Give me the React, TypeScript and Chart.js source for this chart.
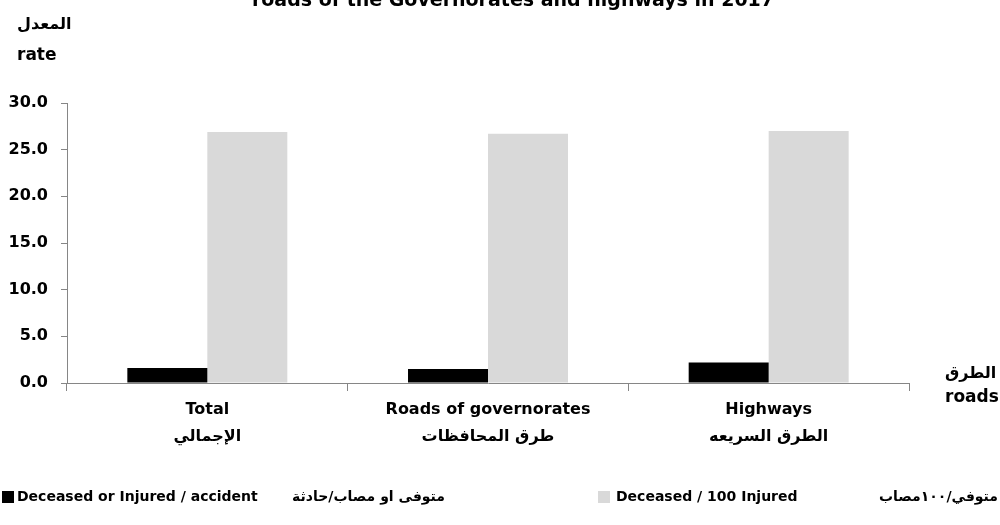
import React, { useEffect, useRef } from "react";
import { Chart, registerables } from "chart.js";

Chart.register(...registerables);

const categoriesEn = ["Total", "Roads of governorates", "Highways"];
const categoriesAr = ["الإجمالي", "طرق المحافظات", "الطرق السريعه"];
const deceasedOrInjuredPerAccident = [1.6, 1.5, 2.2];
const deceasedPer100Injured = [26.9, 26.7, 27.0];
const seriesEn = ["Deceased or Injured / accident", "Deceased / 100 Injured"];
const seriesAr = ["متوفى او مصاب/حادثة", "متوفي/١٠٠مصاب"];
const yMin = 0;
const yMax = 30;
const yStep = 5;
const titleText = "roads of the Governorates and highways in 2017";
const yTitleAr = "المعدل";
const yTitleEn = "rate";
const xTitleAr = "الطرق";
const xTitleEn = "roads";

const FONT = "'DejaVu Sans', sans-serif";
const AXIS = "#868686";
const BLACK = "#000000";
const GRAY = "#d9d9d9";

const extras = {
  id: "extras",
  afterDraw(chart: any) {
    const ctx = chart.ctx as CanvasRenderingContext2D;
    ctx.save();
    ctx.fillStyle = "#000";
    // title (cut at top)
    ctx.font = `bold 19px ${FONT}`;
    ctx.textAlign = "center";
    ctx.textBaseline = "alphabetic";
    ctx.fillText(titleText, 513, 6);
    // y title
    ctx.textAlign = "left";
    ctx.font = `bold 16px ${FONT}`;
    ctx.fillText(yTitleAr, 17, 29);
    ctx.font = `bold 17px ${FONT}`;
    ctx.fillText(yTitleEn, 17, 60);
    // x title
    ctx.font = `bold 16px ${FONT}`;
    ctx.fillText(xTitleAr, 945, 378);
    ctx.font = `bold 17px ${FONT}`;
    ctx.fillText(xTitleEn, 945, 402);
    // legend
    const ly = 497;
    ctx.textBaseline = "middle";
    ctx.font = `bold 14px ${FONT}`;
    ctx.fillStyle = BLACK;
    ctx.fillRect(2, ly - 6, 12, 12);
    ctx.fillStyle = "#000";
    ctx.textAlign = "left";
    ctx.fillText(seriesEn[0], 17, ly);
    ctx.textAlign = "right";
    ctx.fillText(seriesAr[0], 445, ly);
    ctx.fillStyle = GRAY;
    ctx.fillRect(598, ly - 6, 12, 12);
    ctx.fillStyle = "#000";
    ctx.textAlign = "left";
    ctx.fillText(seriesEn[1], 616, ly);
    ctx.textAlign = "right";
    ctx.fillText(seriesAr[1], 998, ly);
    ctx.restore();
  },
};

export default function App() {
  const ref = useRef<HTMLCanvasElement>(null);
  useEffect(() => {
    if (!ref.current) return;
    const chart = new Chart(ref.current, {
      type: "bar",
      data: {
        labels: categoriesEn.map((en, i) => [en, categoriesAr[i]]),
        datasets: [
          {
            label: seriesEn[0],
            data: deceasedOrInjuredPerAccident,
            backgroundColor: BLACK,
            barPercentage: 1,
            categoryPercentage: 0.57,
          },
          {
            label: seriesEn[1],
            data: deceasedPer100Injured,
            backgroundColor: GRAY,
            barPercentage: 1,
            categoryPercentage: 0.57,
          },
        ],
      },
      options: {
        responsive: false,
        animation: false,
        layout: { padding: { top: 103, right: 91, bottom: 72, left: 0 } },
        plugins: {
          legend: { display: false },
          title: { display: false },
          tooltip: { enabled: false },
        },
        scales: {
          x: {
            afterFit: (s: any) => {
              s.height = 70;
            },
            grid: {
              display: true,
              drawOnChartArea: false,
              drawTicks: true,
              tickLength: 8,
              offset: true,
              color: AXIS,
            },
            border: { color: AXIS, width: 1 },
            ticks: {
              color: "#000",
              padding: 5,
              maxRotation: 0,
              autoSkip: false,
              font: { family: FONT, size: 16, weight: "bold", lineHeight: 1.7 },
            },
          },
          y: {
            min: yMin,
            max: yMax,
            afterFit: (s: any) => {
              s.width = 67;
            },
            grid: {
              drawOnChartArea: false,
              drawTicks: true,
              tickLength: 6,
              color: AXIS,
            },
            border: { color: AXIS, width: 1 },
            ticks: {
              stepSize: yStep,
              color: "#000",
              padding: 13,
              font: { family: FONT, size: 16, weight: "bold" },
              callback: (v: any) => Number(v).toFixed(1),
            },
          },
        },
      },
      plugins: [extras],
    });
    return () => chart.destroy();
  }, []);
  return (
    <div style={{ position: "absolute", left: 0, top: 0, width: 1000, height: 525 }}>
      <canvas ref={ref} width={1000} height={525} style={{ width: 1000, height: 525 }} />
    </div>
  );
}
